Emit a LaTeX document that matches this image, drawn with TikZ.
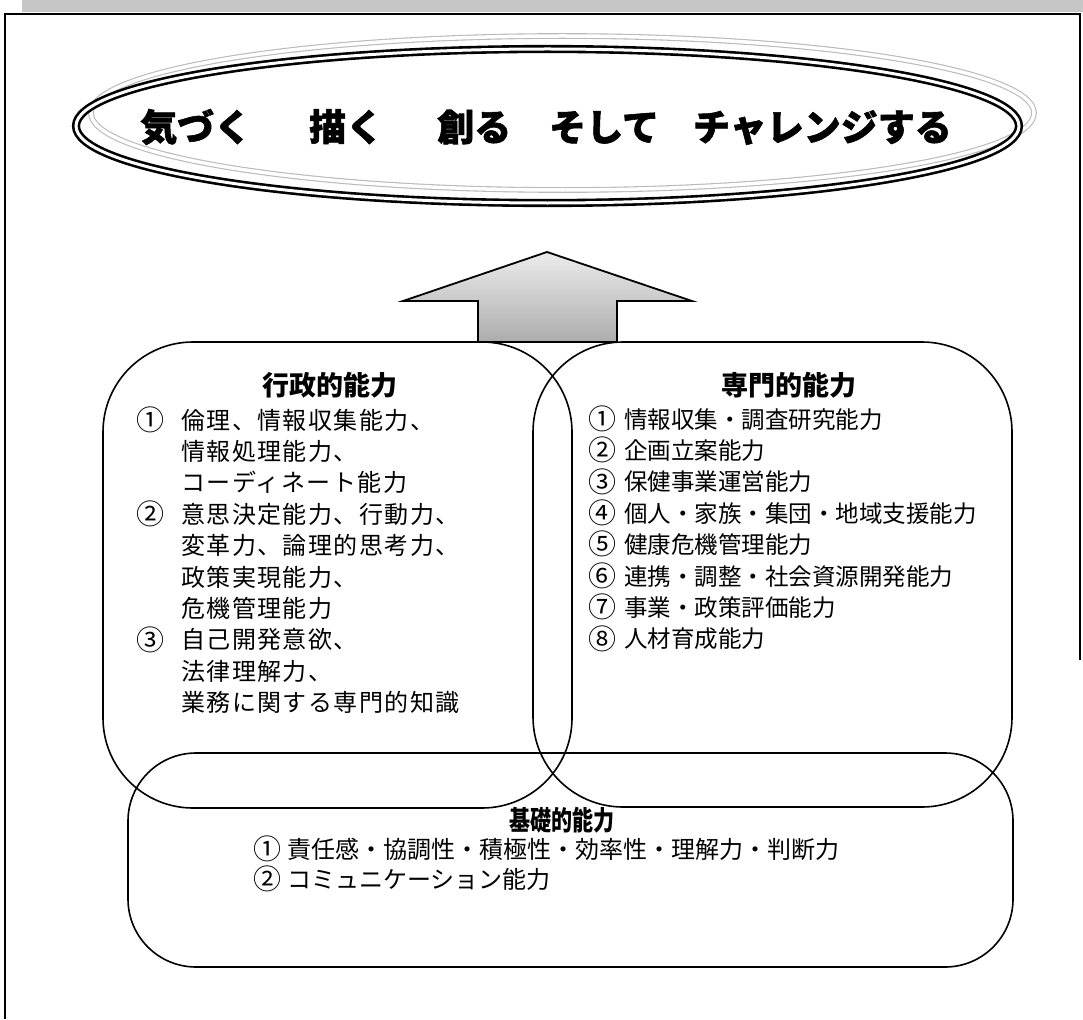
\documentclass[tikz,border=0pt]{standalone}
\usepackage{fontspec}
\newfontfamily\jp{Noto Sans CJK JP}
\newfontfamily\jpheavy[FakeBold=1.5]{Noto Sans CJK JP}
\newfontfamily\jpls[LetterSpace=6]{Noto Sans CJK JP}
\begin{document}
\begin{tikzpicture}[x=1pt,y=-1pt,
  box/.style={draw, line width=1.6pt, rounded corners=#1, inner sep=0pt},
  ttl/.style={font=\jp\bfseries\fontsize{27}{27}\selectfont, inner sep=0pt},
  num/.style={font=\jp\fontsize{28}{28}\selectfont, inner sep=0pt, text height=20pt, text depth=3.5pt},
  txt/.style={font=\jpls\fontsize{24}{24}\selectfont, inner sep=0pt, anchor=west, text height=17pt, text depth=3pt},
  txtr/.style={font=\jp\fontsize{23.5}{24}\selectfont, inner sep=0pt, anchor=west, text height=17pt, text depth=3pt},
  txtb/.style={font=\jp\fontsize{24}{24}\selectfont, inner sep=0pt, anchor=west, text height=17pt, text depth=3pt}]
\useasboundingbox (0,0) rectangle (1083,1019);
% top band and frame
\fill[gray!45] (22,0) rectangle (1083,12);
\draw[line width=2pt] (5,1019) -- (5,14) -- (1079.5,14) -- (1079.5,660);
% motto ellipse
\draw[gray!55, line width=1.1pt, double=white, double distance=3.5pt] (562.5,113) ellipse [x radius=471.5pt, y radius=77pt];
\draw[line width=2.6pt, double=white, double distance=3pt] (547.5,126) ellipse [x radius=471.5pt, y radius=77pt];
\node[font=\jpheavy\bfseries\fontsize{37}{40}\selectfont, inner sep=0pt] (motto) at (546,127)
  {気づく\hspace{58pt}描く\hspace{54pt}創る\hspace{38pt}そして\hspace{34pt}チャレンジする};
% boxes
\node[box=90pt, minimum width=469pt, minimum height=466pt] (gyosei) at (337.5,575) {};
\node[box=90pt, minimum width=479pt, minimum height=465pt] (senmon) at (772.5,574.5) {};
\node[box=68pt, minimum width=885pt, minimum height=214pt] (kiso) at (570.5,860) {};
% up arrow
\coordinate (atip) at (547,252);
\draw[line width=1.8pt, top color=gray!15, bottom color=gray!65, line join=miter]
  (atip) -- (692,301) -- (617,301) -- (617,342) -- (478,342) -- (478,301) -- (403,301) -- cycle;
% left list
\node[ttl] (t1) at (330,385) {行政的能力};
\node[num] (a1) at (150,422) {①};
\node[txt] (a1a) at (181,422) {倫理、情報収集能力、};
\node[txt] (a1b) at (181,453.4) {情報処理能力、};
\node[txt] (a1c) at (181,484.8) {コーディネート能力};
\node[num] (a2) at (150,516.2) {②};
\node[txt] (a2a) at (181,516.2) {意思決定能力、行動力、};
\node[txt] (a2b) at (181,547.6) {変革力、論理的思考力、};
\node[txt] (a2c) at (181,579) {政策実現能力、};
\node[txt] (a2d) at (181,610.4) {危機管理能力};
\node[num] (a3) at (150,641.8) {③};
\node[txt] (a3a) at (181,641.8) {自己開発意欲、};
\node[txt] (a3b) at (181,673.2) {法律理解力、};
\node[txt] (a3c) at (181,704.6) {業務に関する専門的知識};
% right list
\node[ttl] (t2) at (789,385) {専門的能力};
\node[num] (b1) at (602,421) {①};
\node[txtr] (b1a) at (624,421) {情報収集・調査研究能力};
\node[num] (b2) at (602,452.4) {②};
\node[txtr] (b2a) at (624,452.4) {企画立案能力};
\node[num] (b3) at (602,483.8) {③};
\node[txtr] (b3a) at (624,483.8) {保健事業運営能力};
\node[num] (b4) at (602,515.2) {④};
\node[txtr] (b4a) at (624,515.2) {個人・家族・集団・地域支援能力};
\node[num] (b5) at (602,546.6) {⑤};
\node[txtr] (b5a) at (624,546.6) {健康危機管理能力};
\node[num] (b6) at (602,578) {⑥};
\node[txtr] (b6a) at (624,578) {連携・調整・社会資源開発能力};
\node[num] (b7) at (602,609.4) {⑦};
\node[txtr] (b7a) at (624,609.4) {事業・政策評価能力};
\node[num] (b8) at (602,640.8) {⑧};
\node[txtr] (b8a) at (624,640.8) {人材育成能力};
% bottom list
\node[ttl] (t3) at (562,820) {\scalebox{0.78}[1]{基礎的能力}};
\node[num] (c1) at (267,851) {①};
\node[txtb] (c1a) at (287,851) {責任感・協調性・積極性・効率性・理解力・判断力};
\node[num] (c2) at (267,881) {②};
\node[txtb] (c2a) at (287,881) {コミュニケーション能力};
\end{tikzpicture}
\end{document}
